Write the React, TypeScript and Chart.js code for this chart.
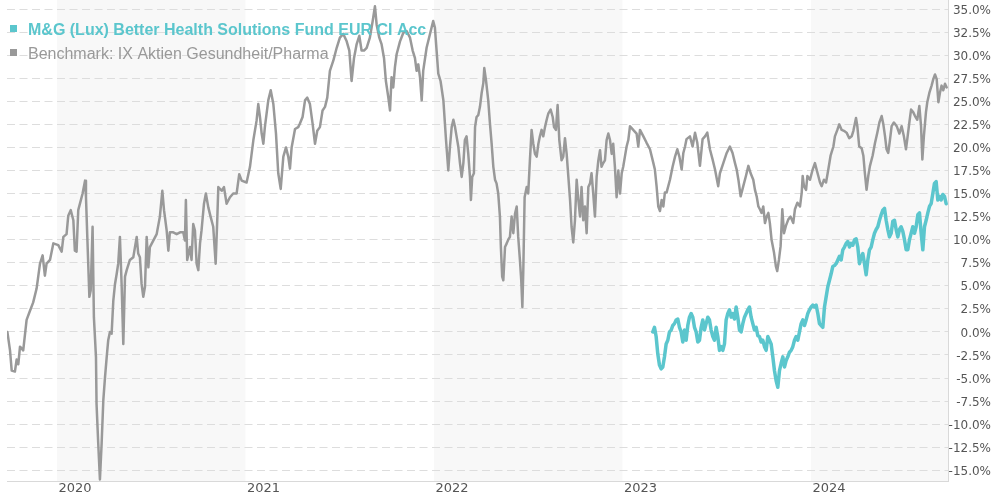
import React, { useEffect, useRef } from "react";
import { Chart, registerables } from "chart.js";

Chart.register(...registerables);

// ---------------- data ----------------
const fundName = "M&G (Lux) Better Health Solutions Fund EUR CI Acc";
const benchmarkName = "Benchmark: IX Aktien Gesundheit/Pharma";

const yearTicks = [2020, 2021, 2022, 2023, 2024];
const shadedYears = [2020, 2022, 2024];
const percentTicks = [-15, -12.5, -10, -7.5, -5, -2.5, 0, 2.5, 5, 7.5, 10, 12.5, 15, 17.5, 20, 22.5, 25, 27.5, 30, 32.5, 35];
const timeRange = [2019.735, 2024.727];
const percentRange = [-16.16, 35.98];

// Benchmark: [decimal year, cumulative change in %]
const benchmark: [number, number][] = [
  [2019.737, 0], [2019.751, -2], [2019.760, -4.2], [2019.777, -4.3], [2019.786, -3], [2019.795, -3.5],
  [2019.804, -1.6], [2019.821, -2], [2019.839, 1.3], [2019.857, 2.3], [2019.874, 3.2], [2019.892, 4.7],
  [2019.910, 7.4], [2019.924, 8.3], [2019.936, 6.1], [2019.945, 7.4], [2019.963, 7.8], [2019.981, 9.6],
  [2020.007, 9.4], [2020.025, 8.7], [2020.034, 10.3], [2020.051, 10.6], [2020.060, 12.6], [2020.073, 13.2],
  [2020.087, 12.1], [2020.095, 8.8], [2020.104, 8.7], [2020.113, 13.2], [2020.122, 13.9], [2020.136, 15],
  [2020.149, 16.4], [2020.154, 14.6], [2020.161, 10.3], [2020.172, 3.8], [2020.179, 4.5], [2020.189, 11.4],
  [2020.196, 1.6], [2020.207, -2.7], [2020.210, -7.8], [2020.219, -12.1], [2020.228, -16], [2020.237, -12.1],
  [2020.246, -7.4], [2020.255, -4.9], [2020.264, -2.7], [2020.272, -0.9], [2020.281, 0], [2020.290, -0.2],
  [2020.299, 3.4], [2020.308, 5.2], [2020.317, 6.3], [2020.325, 7.4], [2020.334, 10.3], [2020.343, 5.2],
  [2020.352, -1.3], [2020.361, 6], [2020.370, 6.7], [2020.387, 7.8], [2020.405, 8.1], [2020.423, 10.3],
  [2020.431, 8.5], [2020.440, 8.1], [2020.449, 5.2], [2020.458, 3.8], [2020.467, 4.9], [2020.476, 10.3],
  [2020.485, 7], [2020.493, 9.2], [2020.511, 9.9], [2020.529, 10.6], [2020.546, 12.5], [2020.559, 15.3],
  [2020.568, 13.2], [2020.582, 11], [2020.591, 8.8], [2020.599, 10.8], [2020.617, 10.8], [2020.635, 10.6],
  [2020.653, 10.8], [2020.670, 10.8], [2020.679, 9.9], [2020.684, 14.3], [2020.691, 7.8], [2020.706, 9.2],
  [2020.714, 7.8], [2020.723, 11.7], [2020.732, 11], [2020.741, 7.4], [2020.750, 6.7], [2020.759, 9.6],
  [2020.767, 11], [2020.780, 13.9], [2020.790, 15], [2020.803, 13.5], [2020.815, 12.5], [2020.829, 11.4],
  [2020.842, 7.4], [2020.851, 12.5], [2020.856, 15.7], [2020.874, 15.3], [2020.886, 15.7], [2020.900, 13.9],
  [2020.918, 14.6], [2020.935, 15], [2020.953, 15], [2020.967, 17.1], [2020.980, 16.4], [2021.006, 16.2],
  [2021.024, 17.9], [2021.042, 20.8], [2021.059, 22.9], [2021.068, 24.7], [2021.077, 23.3], [2021.086, 21.5],
  [2021.095, 20.4], [2021.103, 22.2], [2021.121, 25.1], [2021.134, 26.2], [2021.148, 24.7], [2021.162, 21.5],
  [2021.174, 17.2], [2021.187, 15.5], [2021.201, 19], [2021.215, 20], [2021.227, 19], [2021.236, 17.7],
  [2021.245, 20], [2021.263, 22], [2021.280, 22.2], [2021.289, 22.6], [2021.303, 23.3], [2021.316, 25.1],
  [2021.328, 25.4], [2021.342, 24.7], [2021.356, 22.6], [2021.369, 20.4], [2021.381, 21.8], [2021.395, 22.2],
  [2021.409, 24], [2021.422, 24.4], [2021.434, 25.4], [2021.448, 28.3], [2021.466, 29.4], [2021.484, 30.8],
  [2021.501, 31.9], [2021.519, 32.3], [2021.537, 31.5], [2021.551, 30.5], [2021.563, 27.2], [2021.576, 29.7],
  [2021.590, 31.2], [2021.604, 32.1], [2021.616, 30.5], [2021.629, 30.5], [2021.643, 30.8], [2021.660, 31.9],
  [2021.675, 33.7], [2021.687, 35.3], [2021.696, 33.3], [2021.710, 31.9], [2021.722, 31.2], [2021.735, 29.7],
  [2021.745, 27.2], [2021.758, 25.4], [2021.767, 24], [2021.775, 27.6], [2021.784, 26.5], [2021.793, 28.7],
  [2021.802, 30.1], [2021.820, 31.5], [2021.837, 32.4], [2021.855, 32.6], [2021.873, 31.9], [2021.887, 30.5],
  [2021.899, 29.7], [2021.908, 28.3], [2021.917, 29], [2021.926, 27.6], [2021.935, 25.1], [2021.943, 28.3],
  [2021.961, 30.8], [2021.979, 32.3], [2021.996, 33.7], [2022.005, 33], [2022.014, 30.5], [2022.023, 28],
  [2022.035, 27.2], [2022.050, 25.1], [2022.064, 20.8], [2022.076, 17.5], [2022.085, 20.1], [2022.094, 22.2],
  [2022.103, 23], [2022.111, 22.3], [2022.120, 21.2], [2022.129, 20.1], [2022.138, 18.3], [2022.147, 16.8],
  [2022.156, 18.3], [2022.164, 20.8], [2022.173, 21.2], [2022.182, 19.3], [2022.191, 16.8], [2022.196, 14.3],
  [2022.203, 16.8], [2022.212, 17.2], [2022.218, 22.2], [2022.226, 23.3], [2022.235, 23.5], [2022.244, 24.4],
  [2022.253, 25.9], [2022.262, 27], [2022.267, 28.6], [2022.276, 27.3], [2022.288, 25.1], [2022.297, 22.6],
  [2022.306, 20.4], [2022.315, 17.9], [2022.324, 16.5], [2022.332, 16.1], [2022.341, 15], [2022.350, 12.5],
  [2022.355, 9.2], [2022.362, 6], [2022.368, 5.6], [2022.377, 9.2], [2022.386, 9.6], [2022.394, 10],
  [2022.403, 10.3], [2022.412, 12.5], [2022.421, 10.7], [2022.430, 12.8], [2022.439, 13.6], [2022.447, 10.3],
  [2022.456, 7.8], [2022.463, 5.6], [2022.469, 2.7], [2022.474, 6.7], [2022.481, 14.6], [2022.492, 15.7],
  [2022.500, 15], [2022.509, 18.6], [2022.518, 21.9], [2022.527, 20.4], [2022.536, 19.3], [2022.545, 19],
  [2022.554, 20.4], [2022.562, 21.2], [2022.571, 21.9], [2022.580, 21.2], [2022.589, 22.2], [2022.598, 23],
  [2022.607, 23.7], [2022.619, 24.1], [2022.630, 23.3], [2022.637, 22.2], [2022.647, 21.9], [2022.656, 24.6],
  [2022.665, 20.8], [2022.677, 18.6], [2022.686, 19], [2022.695, 21], [2022.704, 19.3], [2022.713, 16.8],
  [2022.722, 14.3], [2022.730, 11.4], [2022.739, 9.7], [2022.748, 12.1], [2022.757, 16.5], [2022.766, 14.3],
  [2022.775, 12.5], [2022.783, 15.7], [2022.792, 12.1], [2022.801, 13.6], [2022.810, 10.7], [2022.819, 15.7],
  [2022.828, 16.1], [2022.836, 17.2], [2022.845, 15], [2022.854, 12.5], [2022.863, 16.8], [2022.872, 18.6],
  [2022.881, 19.7], [2022.889, 17.9], [2022.898, 18.3], [2022.907, 18.6], [2022.916, 20.8], [2022.925, 21.5],
  [2022.934, 20.8], [2022.943, 19.3], [2022.951, 20.4], [2022.960, 17.9], [2022.969, 14.6], [2022.978, 17.5],
  [2022.987, 15], [2022.996, 17.2], [2023.004, 17.9], [2023.013, 19], [2023.022, 20.1], [2023.031, 20.8],
  [2023.040, 22.3], [2023.057, 21.9], [2023.075, 21.5], [2023.084, 20.1], [2023.093, 21.9], [2023.111, 21.2],
  [2023.128, 20.5], [2023.146, 19.8], [2023.164, 18.3], [2023.172, 17.6], [2023.181, 15.8], [2023.190, 13.6],
  [2023.199, 13.1], [2023.208, 14.3], [2023.217, 13.6], [2023.225, 15.1], [2023.234, 15.1], [2023.252, 16.5],
  [2023.266, 17.9], [2023.279, 19], [2023.291, 19.8], [2023.302, 19], [2023.314, 17.6], [2023.323, 19.4],
  [2023.332, 20.1], [2023.340, 20.9], [2023.358, 21.2], [2023.372, 20.1], [2023.385, 21.6], [2023.397, 20.5],
  [2023.411, 18], [2023.425, 20.9], [2023.438, 21.2], [2023.450, 21.6], [2023.464, 19.8], [2023.478, 18.7],
  [2023.491, 17.6], [2023.508, 15.8], [2023.517, 17.2], [2023.535, 18.3], [2023.553, 19.4], [2023.570, 20.1],
  [2023.584, 19.4], [2023.597, 18.3], [2023.606, 17.6], [2023.615, 16.5], [2023.627, 14.7], [2023.641, 15.8],
  [2023.655, 16.9], [2023.668, 18], [2023.680, 17.2], [2023.694, 16.5], [2023.703, 15.4], [2023.712, 14.7],
  [2023.721, 13.6], [2023.729, 13.3], [2023.738, 12.9], [2023.747, 13.6], [2023.756, 11.8], [2023.765, 12.5],
  [2023.774, 12.9], [2023.782, 11.8], [2023.791, 10], [2023.804, 8.6], [2023.814, 7.1], [2023.821, 6.6],
  [2023.830, 7.8], [2023.839, 9.3], [2023.848, 13.3], [2023.857, 10.7], [2023.867, 11.5], [2023.880, 12.2],
  [2023.892, 12.5], [2023.906, 11.8], [2023.915, 13.3], [2023.928, 14], [2023.942, 13.6], [2023.951, 15.1],
  [2023.956, 16.9], [2023.963, 15.8], [2023.974, 15.4], [2023.981, 16.9], [2023.995, 16.5], [2024.009, 17.6],
  [2024.021, 18.3], [2024.030, 17.6], [2024.039, 16.9], [2024.048, 16.2], [2024.057, 15.8], [2024.069, 16.5],
  [2024.080, 16.2], [2024.092, 17.6], [2024.104, 19.1], [2024.119, 20.1], [2024.127, 21.2], [2024.140, 21.9],
  [2024.150, 22.5], [2024.163, 21.9], [2024.175, 21.8], [2024.189, 21.6], [2024.203, 21], [2024.216, 21.2],
  [2024.225, 21.8], [2024.239, 23.2], [2024.246, 22.3], [2024.256, 20.1], [2024.269, 19.9], [2024.278, 19.1],
  [2024.286, 17.2], [2024.295, 15.4], [2024.304, 16.9], [2024.313, 18], [2024.327, 19.1], [2024.340, 20.5],
  [2024.352, 21.6], [2024.363, 22.7], [2024.375, 23.4], [2024.384, 22.5], [2024.393, 21.2], [2024.401, 19.8],
  [2024.410, 19.4], [2024.419, 20.8], [2024.428, 22.3], [2024.440, 22.7], [2024.455, 22.3], [2024.469, 21.5],
  [2024.481, 22.3], [2024.493, 21.2], [2024.504, 19.8], [2024.511, 20.9], [2024.522, 22.7], [2024.531, 24.1],
  [2024.543, 23.8], [2024.552, 23.4], [2024.564, 23], [2024.575, 24.5], [2024.584, 22.3], [2024.591, 18.7],
  [2024.599, 21.2], [2024.610, 23.8], [2024.617, 24.9], [2024.628, 25.9], [2024.640, 26.7], [2024.649, 27.4],
  [2024.658, 27.9], [2024.667, 27.4], [2024.676, 24.9], [2024.684, 25.9], [2024.693, 26.7], [2024.702, 26.2],
  [2024.711, 26.9], [2024.720, 26.5],
];

// Fund: evenly spaced observations (about every 3.2 days) starting early March 2023
const fundStart = 2023.161;
const fundStep = 0.008842;
const fundValues = [
  0, 0.5, -0.5, -2.4, -3.6, -4, -3.8, -2.7, -1.3, -0.9,
  0, 0.2, 0.7, 0.9, 1.3, 1.4, 0.5, 0, -1.1, 0.2,
  -0.9, 0.7, 1.6, 2, 1.6, 0.5, 0, -1.1, -0.9, 0.5,
  1.3, 0.2, 0.9, 1.6, 1.3, 0.2, -0.5, -0.9, 0.5, -0.5,
  -2, -1.6, -2, -1.3, 1.3, 2, 2.4, 1.6, 2, 1.4,
  2.7, 1.6, 0.2, 0, 0.9, 1.6, 2, 2.4, 2.7, 1.6,
  0.9, 0.2, 0.5, -0.4, -0.5, -1.1, -0.9, -1.6, -2, -0.5,
  -0.9, -1.3, -2.7, -4.2, -5.3, -6, -4.2, -3.4, -2.7, -3.8,
  -3.1, -2.7, -2.2, -2, -1.6, -0.9, -0.5, -0.9, 0, 0.9,
  1.3, 0.7, 1.3, 2, 2.4, 2.7, 2.9, 2.7, 2.9, 2,
  0.9, 0.7, 0.5, 2.7, 3.8, 4.9, 5.6, 6.3, 7.1, 7.2,
  7.4, 7.8, 8.2, 7.8, 8.9, 9.2, 9.6, 9.8, 9.2, 9.6,
  9.4, 10, 10.1, 9.2, 7.4, 8.1, 8.5, 7.4, 6.2, 7.8,
  8.9, 9.2, 10, 10.7, 11.1, 11.4, 12.1, 12.7, 13.2, 13.4,
  12.1, 11.1, 10.3, 10.7, 12, 12.1, 11.1, 10.3, 11.1, 11.4,
  10.9, 10, 8.9, 8.9, 10, 10.7, 11.4, 10.7, 11.4, 12.7,
  12.9, 10.7, 8.9, 11.4, 12.1, 12.9, 13.6, 13.9, 15, 16.1,
  16.3, 14.3, 14.7, 14.3, 14.9, 14.7, 13.9,
];

// ---------------- styles ----------------
const FUND_COLOR = "#5bc6cd";
const BENCH_COLOR = "#999999";
const BAND_COLOR = "#f8f8f8";
const GRID_COLOR = "#dddddd";
const AXIS_COLOR = "#d9d9d9";
const LABEL_COLOR = "#555555";
const AXIS_FONT = '"DejaVu Sans", Verdana, sans-serif';
const LEGEND_FONT = '"Liberation Sans", Arial, sans-serif';

const bandsPlugin = {
  id: "yearBands",
  beforeDraw(chart: any) {
    const { ctx, chartArea, scales } = chart;
    const x = scales.x;
    ctx.save();
    ctx.fillStyle = BAND_COLOR;
    for (const yr of shadedYears) {
      const l = Math.max(x.getPixelForValue(yr), chartArea.left);
      const r = Math.min(x.getPixelForValue(yr + 1), chartArea.right);
      if (r > l) ctx.fillRect(l, chartArea.top, r - l, chartArea.bottom - chartArea.top);
    }
    ctx.restore();
  },
};

const legendPlugin = {
  id: "legendText",
  afterDatasetsDraw(chart: any) {
    const ctx = chart.ctx;
    ctx.save();
    ctx.textBaseline = "alphabetic";
    ctx.textAlign = "left";
    ctx.fillStyle = FUND_COLOR;
    ctx.fillRect(10, 25, 7, 7);
    ctx.font = `bold 16px ${LEGEND_FONT}`;
    ctx.fillText(fundName, 28, 35);
    ctx.fillStyle = BENCH_COLOR;
    ctx.fillRect(10, 49, 7, 7);
    ctx.font = `16px ${LEGEND_FONT}`;
    ctx.fillText(benchmarkName, 28, 59);
    ctx.restore();
  },
};

export default function App() {
  const canvasRef = useRef<HTMLCanvasElement | null>(null);

  useEffect(() => {
    if (!canvasRef.current) return;
    const fundData = fundValues.map((v, i) => ({ x: fundStart + i * fundStep, y: v }));
    const benchData = benchmark.map(([t, v]) => ({ x: t, y: v }));

    const chart = new Chart(canvasRef.current, {
      type: "line",
      data: {
        datasets: [
          {
            label: fundName,
            data: fundData,
            borderColor: FUND_COLOR,
            borderWidth: 3.5,
            pointRadius: 0,
            tension: 0,
            borderJoinStyle: "round",
            borderCapStyle: "round",
            fill: false,
          },
          {
            label: benchmarkName,
            data: benchData,
            borderColor: BENCH_COLOR,
            borderWidth: 2.5,
            pointRadius: 0,
            tension: 0,
            borderJoinStyle: "round",
            borderCapStyle: "round",
            fill: false,
          },
        ],
      },
      options: {
        animation: false,
        responsive: false,
        devicePixelRatio: 1,
        parsing: false,
        layout: { padding: { left: 7, top: 0, right: 0, bottom: 0 } },
        plugins: { legend: { display: false }, tooltip: { enabled: false } },
        scales: {
          x: {
            type: "linear",
            position: "bottom",
            min: timeRange[0],
            max: timeRange[1],
            grid: { display: false, drawTicks: false },
            border: { display: true, color: AXIS_COLOR, width: 1 },
            ticks: {
              align: "start",
              padding: 0,
              color: LABEL_COLOR,
              font: { family: AXIS_FONT, size: 13 },
              maxRotation: 0,
              autoSkip: false,
              callback: (v: any) => String(Math.floor(Number(v))),
            },
            afterBuildTicks: (s: any) => {
              s.ticks = yearTicks.map((y) => ({ value: y + 0.008 }));
            },
            afterFit: (s: any) => {
              s.height = 19;
              s.paddingLeft = 0;
              s.paddingRight = 0;
            },
          },
          y: {
            type: "linear",
            position: "right",
            min: percentRange[0],
            max: percentRange[1],
            grid: { color: GRID_COLOR, lineWidth: 1, drawTicks: false },
            border: { display: true, color: AXIS_COLOR, width: 1, dash: [8, 4.5] },
            ticks: {
              padding: 0,
              crossAlign: "far",
              labelOffset: 1.5,
              color: LABEL_COLOR,
              font: { family: AXIS_FONT, size: 12 },
              autoSkip: false,
              callback: (v: any) => Number(v).toFixed(1) + "%",
            },
            afterBuildTicks: (s: any) => {
              s.ticks = percentTicks.map((v) => ({ value: v }));
            },
            afterFit: (s: any) => {
              s.width = 43;
              s.paddingTop = 0;
              s.paddingBottom = 0;
            },
          },
        },
      } as any,
      plugins: [bandsPlugin, legendPlugin],
    });
    return () => chart.destroy();
  }, []);

  return (
    <div style={{ position: "fixed", left: 0, top: 0, width: 991, height: 500, background: "#ffffff" }}>
      <canvas ref={canvasRef} width={991} height={500} style={{ display: "block" }} />
    </div>
  );
}
